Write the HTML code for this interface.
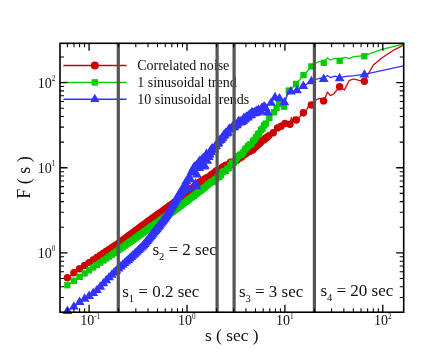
<!DOCTYPE html>
<html><head><meta charset="utf-8"><title>DFA</title>
<style>html,body{margin:0;padding:0;background:#fff;overflow:hidden}svg{display:block;will-change:transform}text{font-family:"Liberation Serif",serif;fill:#111}</style>
</head><body>
<svg width="447" height="353" viewBox="0 0 447 353">
<rect width="447" height="353" fill="#fff"/>
<defs><clipPath id="c"><rect x="54.0" y="42.3" width="350.7" height="274.9"/></clipPath></defs>

<path d="M63.4 65.5H126.6" stroke="#cc0000" stroke-width="1.4"/>
<path d="M63.4 82.4H126.6" stroke="#00cc00" stroke-width="1.4"/>
<path d="M63.4 99.2H126.6" stroke="#3333ff" stroke-width="1.4"/>
<g fill="#cc0000"><circle cx="94.8" cy="65.5" r="4.0"/></g>
<g fill="#00cc00"><rect x="91.6" y="79.2" width="6.4" height="6.4"/></g>
<g fill="#3333ff"><path d="M90.1 101.9L99.5 101.9L94.8 93.7Z"/></g>
<text x="137.2" y="69.8" font-size="14">Correlated noise</text>
<text x="137.2" y="86.7" font-size="14">1 sinusoidal trend</text>
<text x="137.2" y="103.7" font-size="14">10 sinusoidal trends</text>

<g clip-path="url(#c)">
<polyline points="67.4,277.7 73.9,272.8 79.6,268.8 84.6,265.5 89.1,262.6 93.2,259.9 96.9,257.5 100.3,255.3 103.4,253.2 106.3,251.3 109.1,249.5 111.7,247.8 114.1,246.2 116.4,244.7 118.6,243.3 120.6,241.8 122.6,240.3 124.5,238.9 126.3,237.6 128.1,236.3 129.7,235.0 131.3,233.9 132.9,232.7 134.5,231.5 136.1,230.3 137.7,229.1 139.3,227.9 140.9,226.7 142.5,225.5 144.1,224.4 145.7,223.2 147.3,222.0 148.9,220.8 150.5,219.6 152.1,218.5 153.7,217.3 155.3,216.2 156.9,215.0 158.5,213.9 160.1,212.7 161.7,211.6 163.3,210.4 164.9,209.3 166.5,208.1 168.1,206.9 169.7,205.8 171.3,204.6 172.9,203.5 174.5,202.3 176.1,201.1 177.7,199.8 179.3,198.5 180.9,197.3 182.5,196.0 184.1,194.7 185.7,193.4 187.3,192.1 188.9,190.9 190.5,189.6 192.1,188.3 193.7,187.0 195.3,185.7 196.9,184.5 198.5,183.2 200.1,181.9 201.7,180.9 203.3,179.9 204.9,178.9 206.5,177.9 208.1,177.1 209.7,176.6 211.3,174.8 212.9,173.7 214.5,172.7 216.1,170.9 217.7,170.4 219.3,169.7 220.9,169.1 222.5,167.1 224.1,166.5 225.7,165.3 227.3,165.5 228.9,164.4 230.5,162.3 232.1,162.9 233.7,161.9 235.3,160.8 236.9,160.2 238.5,158.8 240.1,157.4 241.7,157.1 243.3,155.3 244.9,154.3 246.5,153.3 248.1,151.8 249.7,151.4 251.3,150.2 252.9,149.7 254.5,147.7 256.1,146.5 257.7,144.9 259.3,143.7 260.9,142.0 262.5,140.1 264.1,139.7 265.7,138.2 267.3,136.9 268.9,135.6 270.0,134.6 273.3,132.7 275.5,131.0 277.5,127.9 279.0,128.5 281.0,126.2 283.0,125.5 285.0,123.5 287.5,125.0 290.0,124.2 291.4,117.5 292.5,121.0 294.0,116.8 296.3,120.0 300.0,116.5 303.4,112.8 306.0,111.5 308.0,107.0 311.3,105.0 314.0,101.5 317.0,99.5 320.0,98.3 323.6,100.9 325.5,97.0 327.5,92.1 330.3,95.6 333.6,94.0 339.6,86.8 344.4,89.9 349.3,80.3 354.0,79.0 358.9,80.3 364.4,81.0 368.5,73.5 373.3,65.1 381.8,57.9 392.6,50.7 403.4,45.1" fill="none" stroke="#cc0000" stroke-width="1.25" stroke-linejoin="round"/>
<g fill="#cc0000">
<circle cx="67.4" cy="277.7" r="3.7"/>
<circle cx="73.9" cy="272.8" r="3.7"/>
<circle cx="79.6" cy="268.8" r="3.7"/>
<circle cx="84.6" cy="265.5" r="3.7"/>
<circle cx="89.1" cy="262.6" r="3.7"/>
<circle cx="93.2" cy="259.9" r="3.7"/>
<circle cx="96.9" cy="257.5" r="3.7"/>
<circle cx="100.3" cy="255.3" r="3.7"/>
<circle cx="103.4" cy="253.2" r="3.7"/>
<circle cx="106.3" cy="251.3" r="3.7"/>
<circle cx="109.1" cy="249.5" r="3.7"/>
<circle cx="111.7" cy="247.8" r="3.7"/>
<circle cx="114.1" cy="246.2" r="3.7"/>
<circle cx="116.4" cy="244.7" r="3.7"/>
<circle cx="118.6" cy="243.3" r="3.7"/>
<circle cx="120.6" cy="241.8" r="3.7"/>
<circle cx="122.6" cy="240.3" r="3.7"/>
<circle cx="124.5" cy="238.9" r="3.7"/>
<circle cx="126.3" cy="237.6" r="3.7"/>
<circle cx="128.1" cy="236.3" r="3.7"/>
<circle cx="129.7" cy="235.0" r="3.7"/>
<circle cx="131.3" cy="233.9" r="3.7"/>
<circle cx="132.9" cy="232.7" r="3.7"/>
<circle cx="134.5" cy="231.5" r="3.7"/>
<circle cx="136.1" cy="230.3" r="3.7"/>
<circle cx="137.7" cy="229.1" r="3.7"/>
<circle cx="139.3" cy="227.9" r="3.7"/>
<circle cx="140.9" cy="226.7" r="3.7"/>
<circle cx="142.5" cy="225.5" r="3.7"/>
<circle cx="144.1" cy="224.4" r="3.7"/>
<circle cx="145.7" cy="223.2" r="3.7"/>
<circle cx="147.3" cy="222.0" r="3.7"/>
<circle cx="148.9" cy="220.8" r="3.7"/>
<circle cx="150.5" cy="219.6" r="3.7"/>
<circle cx="152.1" cy="218.5" r="3.7"/>
<circle cx="153.7" cy="217.3" r="3.7"/>
<circle cx="155.3" cy="216.2" r="3.7"/>
<circle cx="156.9" cy="215.0" r="3.7"/>
<circle cx="158.5" cy="213.9" r="3.7"/>
<circle cx="160.1" cy="212.7" r="3.7"/>
<circle cx="161.7" cy="211.6" r="3.7"/>
<circle cx="163.3" cy="210.4" r="3.7"/>
<circle cx="164.9" cy="209.3" r="3.7"/>
<circle cx="166.5" cy="208.1" r="3.7"/>
<circle cx="168.1" cy="206.9" r="3.7"/>
<circle cx="169.7" cy="205.8" r="3.7"/>
<circle cx="171.3" cy="204.6" r="3.7"/>
<circle cx="172.9" cy="203.5" r="3.7"/>
<circle cx="174.5" cy="202.3" r="3.7"/>
<circle cx="176.1" cy="201.1" r="3.7"/>
<circle cx="177.7" cy="199.8" r="3.7"/>
<circle cx="179.3" cy="198.5" r="3.7"/>
<circle cx="180.9" cy="197.3" r="3.7"/>
<circle cx="182.5" cy="196.0" r="3.7"/>
<circle cx="184.1" cy="194.7" r="3.7"/>
<circle cx="185.7" cy="193.4" r="3.7"/>
<circle cx="187.3" cy="192.1" r="3.7"/>
<circle cx="188.9" cy="190.9" r="3.7"/>
<circle cx="190.5" cy="189.6" r="3.7"/>
<circle cx="192.1" cy="188.3" r="3.7"/>
<circle cx="193.7" cy="187.0" r="3.7"/>
<circle cx="195.3" cy="185.7" r="3.7"/>
<circle cx="196.9" cy="184.5" r="3.7"/>
<circle cx="198.5" cy="183.2" r="3.7"/>
<circle cx="200.1" cy="181.9" r="3.7"/>
<circle cx="201.7" cy="180.9" r="3.7"/>
<circle cx="203.3" cy="179.9" r="3.7"/>
<circle cx="204.9" cy="178.9" r="3.7"/>
<circle cx="206.5" cy="177.9" r="3.7"/>
<circle cx="208.1" cy="177.1" r="3.7"/>
<circle cx="209.7" cy="176.6" r="3.7"/>
<circle cx="211.3" cy="174.8" r="3.7"/>
<circle cx="212.9" cy="173.7" r="3.7"/>
<circle cx="214.5" cy="172.7" r="3.7"/>
<circle cx="216.1" cy="170.9" r="3.7"/>
<circle cx="217.7" cy="170.4" r="3.7"/>
<circle cx="219.3" cy="169.7" r="3.7"/>
<circle cx="220.9" cy="169.1" r="3.7"/>
<circle cx="222.5" cy="167.1" r="3.7"/>
<circle cx="224.1" cy="166.5" r="3.7"/>
<circle cx="225.7" cy="165.3" r="3.7"/>
<circle cx="227.3" cy="165.5" r="3.7"/>
<circle cx="228.9" cy="164.4" r="3.7"/>
<circle cx="230.5" cy="162.3" r="3.7"/>
<circle cx="232.1" cy="162.9" r="3.7"/>
<circle cx="233.7" cy="161.9" r="3.7"/>
<circle cx="235.3" cy="160.8" r="3.7"/>
<circle cx="236.9" cy="160.2" r="3.7"/>
<circle cx="238.5" cy="158.8" r="3.7"/>
<circle cx="240.1" cy="157.4" r="3.7"/>
<circle cx="241.7" cy="157.1" r="3.7"/>
<circle cx="243.3" cy="155.3" r="3.7"/>
<circle cx="244.9" cy="154.3" r="3.7"/>
<circle cx="246.5" cy="153.3" r="3.7"/>
<circle cx="248.1" cy="151.8" r="3.7"/>
<circle cx="249.7" cy="151.4" r="3.7"/>
<circle cx="251.3" cy="150.2" r="3.7"/>
<circle cx="252.9" cy="149.7" r="3.7"/>
<circle cx="254.5" cy="147.7" r="3.7"/>
<circle cx="256.1" cy="146.5" r="3.7"/>
<circle cx="257.7" cy="144.9" r="3.7"/>
<circle cx="259.3" cy="143.7" r="3.7"/>
<circle cx="260.9" cy="142.0" r="3.7"/>
<circle cx="262.5" cy="140.1" r="3.7"/>
<circle cx="264.1" cy="139.7" r="3.7"/>
<circle cx="265.7" cy="138.2" r="3.7"/>
<circle cx="267.3" cy="136.9" r="3.7"/>
<circle cx="268.9" cy="135.6" r="3.7"/>
<circle cx="273.3" cy="132.7" r="3.7"/>
<circle cx="277.5" cy="127.9" r="3.7"/>
<circle cx="281.0" cy="126.2" r="3.7"/>
<circle cx="285.0" cy="123.5" r="3.7"/>
<circle cx="290.0" cy="124.2" r="3.7"/>
<circle cx="296.3" cy="120.0" r="3.7"/>
<circle cx="303.4" cy="112.8" r="3.7"/>
<circle cx="311.3" cy="105.0" r="3.7"/>
<circle cx="323.6" cy="100.9" r="3.7"/>
<circle cx="339.6" cy="86.8" r="3.7"/>
<circle cx="364.4" cy="81.2" r="3.7"/>
</g>
<polyline points="67.4,285.2 73.9,280.8 79.6,276.9 84.6,273.4 89.1,270.3 93.2,267.5 96.9,265.0 100.3,262.6 103.4,260.5 106.3,258.4 109.1,256.6 111.7,254.8 114.1,253.1 116.4,251.5 118.6,250.0 120.6,248.5 122.6,247.1 124.5,245.8 126.3,244.5 128.1,243.3 129.7,242.1 131.3,240.9 132.9,239.8 134.5,238.6 136.1,237.5 137.7,236.4 139.3,235.2 140.9,234.1 142.5,232.9 144.1,231.8 145.7,230.6 147.3,229.5 148.9,228.4 150.5,227.2 152.1,226.1 153.7,225.0 155.3,223.8 156.9,222.7 158.5,221.6 160.1,220.5 161.7,219.3 163.3,218.2 164.9,217.1 166.5,216.0 168.1,214.8 169.7,213.7 171.3,212.6 172.9,211.5 174.5,210.3 176.1,209.1 177.7,207.9 179.3,206.7 180.9,205.5 182.5,204.3 184.1,203.1 185.7,201.9 187.3,200.7 188.9,199.5 190.5,198.2 192.1,197.0 193.7,195.8 195.3,194.6 196.9,193.4 198.5,192.2 200.1,191.0 201.7,189.8 203.3,188.5 204.9,187.3 206.5,185.8 208.1,184.4 209.7,183.3 211.3,181.6 212.9,181.7 214.5,179.7 216.1,179.4 217.7,177.1 219.3,176.8 220.9,175.2 222.5,172.0 224.1,171.0 225.7,171.0 227.3,168.6 228.9,168.0 230.5,165.3 232.1,163.0 233.7,162.5 235.3,161.0 236.9,158.1 238.5,155.9 240.1,154.8 241.7,154.4 243.3,152.4 244.9,149.5 246.5,148.1 248.1,146.2 249.7,144.4 251.3,144.3 252.9,141.2 254.5,139.8 256.1,137.3 257.7,134.5 259.3,133.3 260.9,129.9 262.5,128.6 264.1,125.3 265.7,123.6 265.9,123.5 269.3,118.0 273.9,112.3 276.5,108.0 279.0,103.8 281.5,106.5 284.0,106.7 286.0,99.0 288.8,90.6 292.0,88.5 296.0,84.0 299.5,80.0 303.5,75.1 307.0,71.5 311.3,66.4 315.0,63.5 319.0,61.5 323.7,62.2 327.5,57.8 330.3,60.0 334.8,58.4 339.6,59.6 344.4,57.4 349.3,58.4 354.0,56.7 364.4,55.7 381.8,49.4 403.4,44.1" fill="none" stroke="#00cc00" stroke-width="1.25" stroke-linejoin="round"/>
<g fill="#00cc00">
<rect x="64.2" y="282.1" width="6.3" height="6.3"/>
<rect x="70.8" y="277.6" width="6.3" height="6.3"/>
<rect x="76.5" y="273.7" width="6.3" height="6.3"/>
<rect x="81.5" y="270.3" width="6.3" height="6.3"/>
<rect x="85.9" y="267.2" width="6.3" height="6.3"/>
<rect x="90.0" y="264.4" width="6.3" height="6.3"/>
<rect x="93.7" y="261.8" width="6.3" height="6.3"/>
<rect x="97.1" y="259.5" width="6.3" height="6.3"/>
<rect x="100.3" y="257.3" width="6.3" height="6.3"/>
<rect x="103.2" y="255.3" width="6.3" height="6.3"/>
<rect x="105.9" y="253.4" width="6.3" height="6.3"/>
<rect x="108.5" y="251.6" width="6.3" height="6.3"/>
<rect x="110.9" y="250.0" width="6.3" height="6.3"/>
<rect x="113.2" y="248.4" width="6.3" height="6.3"/>
<rect x="115.4" y="246.9" width="6.3" height="6.3"/>
<rect x="117.5" y="245.4" width="6.3" height="6.3"/>
<rect x="119.5" y="244.0" width="6.3" height="6.3"/>
<rect x="121.4" y="242.6" width="6.3" height="6.3"/>
<rect x="123.2" y="241.3" width="6.3" height="6.3"/>
<rect x="124.9" y="240.1" width="6.3" height="6.3"/>
<rect x="126.6" y="238.9" width="6.3" height="6.3"/>
<rect x="128.2" y="237.8" width="6.3" height="6.3"/>
<rect x="129.8" y="236.6" width="6.3" height="6.3"/>
<rect x="131.4" y="235.5" width="6.3" height="6.3"/>
<rect x="133.0" y="234.3" width="6.3" height="6.3"/>
<rect x="134.6" y="233.2" width="6.3" height="6.3"/>
<rect x="136.2" y="232.1" width="6.3" height="6.3"/>
<rect x="137.8" y="230.9" width="6.3" height="6.3"/>
<rect x="139.4" y="229.8" width="6.3" height="6.3"/>
<rect x="141.0" y="228.6" width="6.3" height="6.3"/>
<rect x="142.6" y="227.5" width="6.3" height="6.3"/>
<rect x="144.2" y="226.4" width="6.3" height="6.3"/>
<rect x="145.8" y="225.2" width="6.3" height="6.3"/>
<rect x="147.4" y="224.1" width="6.3" height="6.3"/>
<rect x="149.0" y="223.0" width="6.3" height="6.3"/>
<rect x="150.6" y="221.8" width="6.3" height="6.3"/>
<rect x="152.2" y="220.7" width="6.3" height="6.3"/>
<rect x="153.8" y="219.6" width="6.3" height="6.3"/>
<rect x="155.4" y="218.4" width="6.3" height="6.3"/>
<rect x="157.0" y="217.3" width="6.3" height="6.3"/>
<rect x="158.6" y="216.2" width="6.3" height="6.3"/>
<rect x="160.2" y="215.1" width="6.3" height="6.3"/>
<rect x="161.8" y="213.9" width="6.3" height="6.3"/>
<rect x="163.4" y="212.8" width="6.3" height="6.3"/>
<rect x="165.0" y="211.7" width="6.3" height="6.3"/>
<rect x="166.6" y="210.6" width="6.3" height="6.3"/>
<rect x="168.2" y="209.4" width="6.3" height="6.3"/>
<rect x="169.8" y="208.3" width="6.3" height="6.3"/>
<rect x="171.4" y="207.2" width="6.3" height="6.3"/>
<rect x="173.0" y="206.0" width="6.3" height="6.3"/>
<rect x="174.6" y="204.8" width="6.3" height="6.3"/>
<rect x="176.2" y="203.6" width="6.3" height="6.3"/>
<rect x="177.8" y="202.4" width="6.3" height="6.3"/>
<rect x="179.4" y="201.1" width="6.3" height="6.3"/>
<rect x="181.0" y="199.9" width="6.3" height="6.3"/>
<rect x="182.6" y="198.7" width="6.3" height="6.3"/>
<rect x="184.2" y="197.5" width="6.3" height="6.3"/>
<rect x="185.8" y="196.3" width="6.3" height="6.3"/>
<rect x="187.4" y="195.1" width="6.3" height="6.3"/>
<rect x="189.0" y="193.9" width="6.3" height="6.3"/>
<rect x="190.6" y="192.7" width="6.3" height="6.3"/>
<rect x="192.2" y="191.5" width="6.3" height="6.3"/>
<rect x="193.8" y="190.2" width="6.3" height="6.3"/>
<rect x="195.4" y="189.0" width="6.3" height="6.3"/>
<rect x="197.0" y="187.8" width="6.3" height="6.3"/>
<rect x="198.6" y="186.6" width="6.3" height="6.3"/>
<rect x="200.2" y="185.4" width="6.3" height="6.3"/>
<rect x="201.8" y="184.2" width="6.3" height="6.3"/>
<rect x="203.4" y="182.6" width="6.3" height="6.3"/>
<rect x="205.0" y="181.2" width="6.3" height="6.3"/>
<rect x="206.6" y="180.1" width="6.3" height="6.3"/>
<rect x="208.2" y="178.4" width="6.3" height="6.3"/>
<rect x="209.8" y="178.6" width="6.3" height="6.3"/>
<rect x="211.4" y="176.6" width="6.3" height="6.3"/>
<rect x="213.0" y="176.2" width="6.3" height="6.3"/>
<rect x="214.6" y="174.0" width="6.3" height="6.3"/>
<rect x="216.2" y="173.7" width="6.3" height="6.3"/>
<rect x="217.8" y="172.0" width="6.3" height="6.3"/>
<rect x="219.4" y="168.9" width="6.3" height="6.3"/>
<rect x="221.0" y="167.9" width="6.3" height="6.3"/>
<rect x="222.6" y="167.8" width="6.3" height="6.3"/>
<rect x="224.2" y="165.5" width="6.3" height="6.3"/>
<rect x="225.8" y="164.9" width="6.3" height="6.3"/>
<rect x="227.4" y="162.1" width="6.3" height="6.3"/>
<rect x="229.0" y="159.9" width="6.3" height="6.3"/>
<rect x="230.6" y="159.4" width="6.3" height="6.3"/>
<rect x="232.2" y="157.9" width="6.3" height="6.3"/>
<rect x="233.8" y="155.0" width="6.3" height="6.3"/>
<rect x="235.4" y="152.8" width="6.3" height="6.3"/>
<rect x="237.0" y="151.6" width="6.3" height="6.3"/>
<rect x="238.6" y="151.3" width="6.3" height="6.3"/>
<rect x="240.2" y="149.2" width="6.3" height="6.3"/>
<rect x="241.8" y="146.3" width="6.3" height="6.3"/>
<rect x="243.4" y="144.9" width="6.3" height="6.3"/>
<rect x="245.0" y="143.0" width="6.3" height="6.3"/>
<rect x="246.6" y="141.3" width="6.3" height="6.3"/>
<rect x="248.2" y="141.1" width="6.3" height="6.3"/>
<rect x="249.8" y="138.1" width="6.3" height="6.3"/>
<rect x="251.4" y="136.6" width="6.3" height="6.3"/>
<rect x="253.0" y="134.1" width="6.3" height="6.3"/>
<rect x="254.6" y="131.3" width="6.3" height="6.3"/>
<rect x="256.2" y="130.2" width="6.3" height="6.3"/>
<rect x="257.8" y="126.7" width="6.3" height="6.3"/>
<rect x="259.4" y="125.5" width="6.3" height="6.3"/>
<rect x="261.0" y="122.1" width="6.3" height="6.3"/>
<rect x="262.6" y="120.4" width="6.3" height="6.3"/>
<rect x="266.2" y="114.8" width="6.3" height="6.3"/>
<rect x="270.8" y="109.1" width="6.3" height="6.3"/>
<rect x="273.4" y="104.8" width="6.3" height="6.3"/>
<rect x="275.9" y="100.6" width="6.3" height="6.3"/>
<rect x="280.9" y="103.5" width="6.3" height="6.3"/>
<rect x="285.7" y="87.4" width="6.3" height="6.3"/>
<rect x="292.9" y="80.8" width="6.3" height="6.3"/>
<rect x="300.4" y="71.9" width="6.3" height="6.3"/>
<rect x="308.2" y="63.3" width="6.3" height="6.3"/>
<rect x="320.6" y="59.6" width="6.3" height="6.3"/>
<rect x="336.5" y="57.6" width="6.3" height="6.3"/>
<rect x="361.2" y="53.1" width="6.3" height="6.3"/>
</g>
<polyline points="67.4,311.2 73.9,306.8 79.6,302.2 84.6,298.9 89.1,296.2 93.2,293.3 96.9,290.3 100.3,286.9 103.4,283.5 106.3,280.4 109.1,277.5 111.7,275.0 114.1,272.7 116.4,270.6 118.6,268.6 120.6,266.8 122.6,265.0 124.5,263.3 126.3,261.7 128.1,260.1 129.7,258.6 131.3,257.1 132.9,255.7 134.4,254.4 135.8,253.0 137.2,251.6 138.6,250.3 139.9,249.0 141.1,247.8 142.4,246.6 143.6,245.4 144.7,244.1 145.9,242.7 147.0,241.3 148.0,239.9 149.1,238.6 150.1,237.4 151.1,236.1 152.1,234.9 153.0,233.6 154.0,232.5 154.9,231.3 155.8,230.2 156.7,229.1 157.5,228.0 158.4,226.9 159.2,225.9 160.0,224.8 160.8,223.8 161.6,222.8 162.4,221.8 163.2,220.8 164.0,219.8 164.8,218.7 165.6,217.5 166.4,216.1 167.2,214.8 168.0,213.4 168.8,212.0 169.6,210.7 170.4,209.3 171.2,208.0 172.0,206.6 172.8,205.3 173.6,203.9 174.4,202.5 175.2,201.2 176.0,199.8 176.8,198.5 177.6,197.1 178.4,195.7 179.2,194.4 180.0,193.0 180.8,192.9 181.6,191.3 182.4,190.0 183.2,187.2 184.0,190.5 184.8,188.4 185.6,186.9 186.4,181.2 187.2,186.9 188.0,188.1 188.8,178.5 189.6,178.4 190.4,179.7 191.2,172.6 192.0,171.7 192.8,169.9 193.6,168.1 194.4,166.9 195.2,168.0 196.0,166.1 196.8,174.6 197.6,164.3 198.4,162.6 199.2,168.2 200.0,160.9 200.8,164.5 201.6,160.0 202.4,165.1 203.2,158.2 204.0,166.7 204.8,166.0 205.6,156.6 206.4,154.2 207.2,160.9 208.0,155.4 208.8,157.2 209.6,154.8 210.4,150.8 211.2,152.4 212.0,148.7 212.8,148.8 213.6,149.8 214.4,149.7 215.2,146.6 216.0,146.3 216.8,143.8 217.6,143.9 218.4,143.1 219.2,140.9 220.0,140.2 220.8,140.1 221.6,138.8 222.4,138.1 223.2,136.4 224.0,134.8 224.8,135.5 225.6,133.0 226.4,133.6 227.2,132.7 228.0,132.7 228.8,129.5 229.6,128.9 230.4,129.6 231.2,129.3 232.0,127.9 232.8,126.4 233.6,126.2 234.4,127.4 235.2,125.0 236.0,125.7 236.8,125.2 237.6,123.8 238.4,121.6 239.2,121.7 240.0,122.8 240.8,121.5 241.6,122.2 242.4,120.3 243.2,121.3 244.0,118.2 244.8,119.7 245.6,118.8 246.4,116.8 247.2,116.8 248.0,117.7 248.8,115.7 249.6,115.3 250.4,114.0 251.2,115.5 252.0,112.4 252.8,113.5 253.6,113.5 254.4,112.7 255.2,113.3 256.0,111.5 256.8,111.2 257.6,112.8 258.4,109.8 259.2,111.8 260.0,111.2 260.8,111.3 261.6,108.4 262.4,108.3 263.2,108.2 264.0,106.8 264.8,107.0 265.6,108.5 266.0,106.5 271.0,103.0 275.0,97.4 279.5,98.5 284.4,102.5 287.0,95.0 290.8,91.7 297.0,90.4 303.3,86.2 311.4,81.4 316.0,79.5 320.0,78.2 323.7,78.6 327.5,75.5 330.3,77.6 335.0,76.2 339.6,77.6 346.0,76.3 354.0,75.6 364.4,74.3 403.4,65.8" fill="none" stroke="#3333ff" stroke-width="1.25" stroke-linejoin="round"/>
<g fill="#3333ff">
<path d="M62.5 314.0L72.3 314.0L67.4 305.6Z"/>
<path d="M69.0 309.6L78.8 309.6L73.9 301.2Z"/>
<path d="M74.7 305.0L84.5 305.0L79.6 296.6Z"/>
<path d="M79.7 301.7L89.5 301.7L84.6 293.3Z"/>
<path d="M84.2 299.0L94.0 299.0L89.1 290.6Z"/>
<path d="M88.3 296.1L98.1 296.1L93.2 287.7Z"/>
<path d="M92.0 293.1L101.8 293.1L96.9 284.7Z"/>
<path d="M95.4 289.7L105.2 289.7L100.3 281.3Z"/>
<path d="M98.5 286.3L108.3 286.3L103.4 277.9Z"/>
<path d="M101.4 283.2L111.2 283.2L106.3 274.8Z"/>
<path d="M104.2 280.3L114.0 280.3L109.1 271.9Z"/>
<path d="M106.8 277.8L116.6 277.8L111.7 269.4Z"/>
<path d="M109.2 275.5L119.0 275.5L114.1 267.1Z"/>
<path d="M111.5 273.4L121.3 273.4L116.4 265.0Z"/>
<path d="M113.7 271.4L123.5 271.4L118.6 263.0Z"/>
<path d="M115.7 269.6L125.5 269.6L120.6 261.2Z"/>
<path d="M117.7 267.8L127.5 267.8L122.6 259.4Z"/>
<path d="M119.6 266.1L129.4 266.1L124.5 257.7Z"/>
<path d="M121.4 264.5L131.2 264.5L126.3 256.1Z"/>
<path d="M123.2 262.9L133.0 262.9L128.1 254.5Z"/>
<path d="M124.8 261.4L134.6 261.4L129.7 253.0Z"/>
<path d="M126.4 259.9L136.2 259.9L131.3 251.5Z"/>
<path d="M128.0 258.5L137.8 258.5L132.9 250.1Z"/>
<path d="M129.5 257.2L139.3 257.2L134.4 248.8Z"/>
<path d="M130.9 255.8L140.7 255.8L135.8 247.4Z"/>
<path d="M132.3 254.4L142.1 254.4L137.2 246.0Z"/>
<path d="M133.7 253.1L143.5 253.1L138.6 244.7Z"/>
<path d="M135.0 251.8L144.8 251.8L139.9 243.4Z"/>
<path d="M136.2 250.6L146.0 250.6L141.1 242.2Z"/>
<path d="M137.5 249.4L147.3 249.4L142.4 241.0Z"/>
<path d="M138.7 248.2L148.5 248.2L143.6 239.8Z"/>
<path d="M139.8 246.9L149.6 246.9L144.7 238.5Z"/>
<path d="M141.0 245.5L150.8 245.5L145.9 237.1Z"/>
<path d="M142.1 244.1L151.9 244.1L147.0 235.7Z"/>
<path d="M143.1 242.7L152.9 242.7L148.0 234.3Z"/>
<path d="M144.2 241.4L154.0 241.4L149.1 233.0Z"/>
<path d="M145.2 240.2L155.0 240.2L150.1 231.8Z"/>
<path d="M146.2 238.9L156.0 238.9L151.1 230.5Z"/>
<path d="M147.2 237.7L157.0 237.7L152.1 229.3Z"/>
<path d="M148.1 236.4L157.9 236.4L153.0 228.0Z"/>
<path d="M149.1 235.3L158.9 235.3L154.0 226.9Z"/>
<path d="M150.0 234.1L159.8 234.1L154.9 225.7Z"/>
<path d="M150.9 233.0L160.7 233.0L155.8 224.6Z"/>
<path d="M151.8 231.9L161.6 231.9L156.7 223.5Z"/>
<path d="M152.6 230.8L162.4 230.8L157.5 222.4Z"/>
<path d="M153.5 229.7L163.3 229.7L158.4 221.3Z"/>
<path d="M154.3 228.7L164.1 228.7L159.2 220.3Z"/>
<path d="M155.1 227.6L164.9 227.6L160.0 219.2Z"/>
<path d="M155.9 226.6L165.7 226.6L160.8 218.2Z"/>
<path d="M156.7 225.6L166.5 225.6L161.6 217.2Z"/>
<path d="M157.5 224.6L167.3 224.6L162.4 216.2Z"/>
<path d="M158.3 223.6L168.1 223.6L163.2 215.2Z"/>
<path d="M159.1 222.6L168.9 222.6L164.0 214.2Z"/>
<path d="M159.9 221.5L169.7 221.5L164.8 213.1Z"/>
<path d="M160.7 220.3L170.5 220.3L165.6 211.9Z"/>
<path d="M161.5 218.9L171.3 218.9L166.4 210.5Z"/>
<path d="M162.3 217.6L172.1 217.6L167.2 209.2Z"/>
<path d="M163.1 216.2L172.9 216.2L168.0 207.8Z"/>
<path d="M163.9 214.8L173.7 214.8L168.8 206.4Z"/>
<path d="M164.7 213.5L174.5 213.5L169.6 205.1Z"/>
<path d="M165.5 212.1L175.3 212.1L170.4 203.7Z"/>
<path d="M166.3 210.8L176.1 210.8L171.2 202.4Z"/>
<path d="M167.1 209.4L176.9 209.4L172.0 201.0Z"/>
<path d="M167.9 208.1L177.7 208.1L172.8 199.7Z"/>
<path d="M168.7 206.7L178.5 206.7L173.6 198.3Z"/>
<path d="M169.5 205.3L179.3 205.3L174.4 196.9Z"/>
<path d="M170.3 204.0L180.1 204.0L175.2 195.6Z"/>
<path d="M171.1 202.6L180.9 202.6L176.0 194.2Z"/>
<path d="M171.9 201.3L181.7 201.3L176.8 192.9Z"/>
<path d="M172.7 199.9L182.5 199.9L177.6 191.5Z"/>
<path d="M173.5 198.5L183.3 198.5L178.4 190.1Z"/>
<path d="M174.3 197.2L184.1 197.2L179.2 188.8Z"/>
<path d="M175.1 195.8L184.9 195.8L180.0 187.4Z"/>
<path d="M175.9 195.7L185.7 195.7L180.8 187.3Z"/>
<path d="M176.7 194.1L186.5 194.1L181.6 185.7Z"/>
<path d="M177.5 192.8L187.3 192.8L182.4 184.4Z"/>
<path d="M178.3 190.0L188.1 190.0L183.2 181.6Z"/>
<path d="M179.1 193.3L188.9 193.3L184.0 184.9Z"/>
<path d="M179.9 191.2L189.7 191.2L184.8 182.8Z"/>
<path d="M180.7 189.7L190.5 189.7L185.6 181.3Z"/>
<path d="M181.5 184.0L191.3 184.0L186.4 175.6Z"/>
<path d="M182.3 189.7L192.1 189.7L187.2 181.3Z"/>
<path d="M183.1 190.9L192.9 190.9L188.0 182.5Z"/>
<path d="M183.9 181.3L193.7 181.3L188.8 172.9Z"/>
<path d="M184.7 181.2L194.5 181.2L189.6 172.8Z"/>
<path d="M185.5 182.5L195.3 182.5L190.4 174.1Z"/>
<path d="M186.3 175.4L196.1 175.4L191.2 167.0Z"/>
<path d="M187.1 174.5L196.9 174.5L192.0 166.1Z"/>
<path d="M187.9 172.7L197.7 172.7L192.8 164.3Z"/>
<path d="M188.7 170.9L198.5 170.9L193.6 162.5Z"/>
<path d="M189.5 169.7L199.3 169.7L194.4 161.3Z"/>
<path d="M190.3 170.8L200.1 170.8L195.2 162.4Z"/>
<path d="M191.1 168.9L200.9 168.9L196.0 160.5Z"/>
<path d="M191.9 177.4L201.7 177.4L196.8 169.0Z"/>
<path d="M192.7 167.1L202.5 167.1L197.6 158.7Z"/>
<path d="M193.5 165.4L203.3 165.4L198.4 157.0Z"/>
<path d="M194.3 171.0L204.1 171.0L199.2 162.6Z"/>
<path d="M195.1 163.7L204.9 163.7L200.0 155.3Z"/>
<path d="M195.9 167.3L205.7 167.3L200.8 158.9Z"/>
<path d="M196.7 162.8L206.5 162.8L201.6 154.4Z"/>
<path d="M197.5 167.9L207.3 167.9L202.4 159.5Z"/>
<path d="M198.3 161.0L208.1 161.0L203.2 152.6Z"/>
<path d="M199.1 169.5L208.9 169.5L204.0 161.1Z"/>
<path d="M199.9 168.8L209.7 168.8L204.8 160.4Z"/>
<path d="M200.7 159.4L210.5 159.4L205.6 151.0Z"/>
<path d="M201.5 157.0L211.3 157.0L206.4 148.6Z"/>
<path d="M202.3 163.7L212.1 163.7L207.2 155.3Z"/>
<path d="M203.1 158.2L212.9 158.2L208.0 149.8Z"/>
<path d="M203.9 160.0L213.7 160.0L208.8 151.6Z"/>
<path d="M204.7 157.6L214.5 157.6L209.6 149.2Z"/>
<path d="M205.5 153.6L215.3 153.6L210.4 145.2Z"/>
<path d="M206.3 155.2L216.1 155.2L211.2 146.8Z"/>
<path d="M207.1 151.5L216.9 151.5L212.0 143.1Z"/>
<path d="M207.9 151.6L217.7 151.6L212.8 143.2Z"/>
<path d="M208.7 152.6L218.5 152.6L213.6 144.2Z"/>
<path d="M209.5 152.5L219.3 152.5L214.4 144.1Z"/>
<path d="M210.3 149.4L220.1 149.4L215.2 141.0Z"/>
<path d="M211.1 149.1L220.9 149.1L216.0 140.7Z"/>
<path d="M211.9 146.6L221.7 146.6L216.8 138.2Z"/>
<path d="M212.7 146.7L222.5 146.7L217.6 138.3Z"/>
<path d="M213.5 145.9L223.3 145.9L218.4 137.5Z"/>
<path d="M214.3 143.7L224.1 143.7L219.2 135.3Z"/>
<path d="M215.1 143.0L224.9 143.0L220.0 134.6Z"/>
<path d="M215.9 142.9L225.7 142.9L220.8 134.5Z"/>
<path d="M216.7 141.6L226.5 141.6L221.6 133.2Z"/>
<path d="M217.5 140.9L227.3 140.9L222.4 132.5Z"/>
<path d="M218.3 139.2L228.1 139.2L223.2 130.8Z"/>
<path d="M219.1 137.6L228.9 137.6L224.0 129.2Z"/>
<path d="M219.9 138.3L229.7 138.3L224.8 129.9Z"/>
<path d="M220.7 135.8L230.5 135.8L225.6 127.4Z"/>
<path d="M221.5 136.4L231.3 136.4L226.4 128.0Z"/>
<path d="M222.3 135.5L232.1 135.5L227.2 127.1Z"/>
<path d="M223.1 135.5L232.9 135.5L228.0 127.1Z"/>
<path d="M223.9 132.3L233.7 132.3L228.8 123.9Z"/>
<path d="M224.7 131.7L234.5 131.7L229.6 123.3Z"/>
<path d="M225.5 132.4L235.3 132.4L230.4 124.0Z"/>
<path d="M226.3 132.1L236.1 132.1L231.2 123.7Z"/>
<path d="M227.1 130.7L236.9 130.7L232.0 122.3Z"/>
<path d="M227.9 129.2L237.7 129.2L232.8 120.8Z"/>
<path d="M228.7 129.0L238.5 129.0L233.6 120.6Z"/>
<path d="M229.5 130.2L239.3 130.2L234.4 121.8Z"/>
<path d="M230.3 127.8L240.1 127.8L235.2 119.4Z"/>
<path d="M231.1 128.5L240.9 128.5L236.0 120.1Z"/>
<path d="M231.9 128.0L241.7 128.0L236.8 119.6Z"/>
<path d="M232.7 126.6L242.5 126.6L237.6 118.2Z"/>
<path d="M233.5 124.4L243.3 124.4L238.4 116.0Z"/>
<path d="M234.3 124.5L244.1 124.5L239.2 116.1Z"/>
<path d="M235.1 125.6L244.9 125.6L240.0 117.2Z"/>
<path d="M235.9 124.3L245.7 124.3L240.8 115.9Z"/>
<path d="M236.7 125.0L246.5 125.0L241.6 116.6Z"/>
<path d="M237.5 123.1L247.3 123.1L242.4 114.7Z"/>
<path d="M238.3 124.1L248.1 124.1L243.2 115.7Z"/>
<path d="M239.1 121.0L248.9 121.0L244.0 112.6Z"/>
<path d="M239.9 122.5L249.7 122.5L244.8 114.1Z"/>
<path d="M240.7 121.6L250.5 121.6L245.6 113.2Z"/>
<path d="M241.5 119.6L251.3 119.6L246.4 111.2Z"/>
<path d="M242.3 119.6L252.1 119.6L247.2 111.2Z"/>
<path d="M243.1 120.5L252.9 120.5L248.0 112.1Z"/>
<path d="M243.9 118.5L253.7 118.5L248.8 110.1Z"/>
<path d="M244.7 118.1L254.5 118.1L249.6 109.7Z"/>
<path d="M245.5 116.8L255.3 116.8L250.4 108.4Z"/>
<path d="M246.3 118.3L256.1 118.3L251.2 109.9Z"/>
<path d="M247.1 115.2L256.9 115.2L252.0 106.8Z"/>
<path d="M247.9 116.3L257.7 116.3L252.8 107.9Z"/>
<path d="M248.7 116.3L258.5 116.3L253.6 107.9Z"/>
<path d="M249.5 115.5L259.3 115.5L254.4 107.1Z"/>
<path d="M250.3 116.1L260.1 116.1L255.2 107.7Z"/>
<path d="M251.1 114.3L260.9 114.3L256.0 105.9Z"/>
<path d="M251.9 114.0L261.7 114.0L256.8 105.6Z"/>
<path d="M252.7 115.6L262.5 115.6L257.6 107.2Z"/>
<path d="M253.5 112.6L263.3 112.6L258.4 104.2Z"/>
<path d="M254.3 114.6L264.1 114.6L259.2 106.2Z"/>
<path d="M255.1 114.0L264.9 114.0L260.0 105.6Z"/>
<path d="M255.9 114.1L265.7 114.1L260.8 105.7Z"/>
<path d="M256.7 111.2L266.5 111.2L261.6 102.8Z"/>
<path d="M257.5 111.1L267.3 111.1L262.4 102.7Z"/>
<path d="M258.3 111.0L268.1 111.0L263.2 102.6Z"/>
<path d="M259.1 109.6L268.9 109.6L264.0 101.2Z"/>
<path d="M259.9 109.8L269.7 109.8L264.8 101.4Z"/>
<path d="M260.7 111.3L270.5 111.3L265.6 102.9Z"/>
<path d="M191.4 189.3L201.2 189.3L196.3 180.9Z"/>
<path d="M190.7 186.3L200.5 186.3L195.6 177.9Z"/>
<path d="M262.7 115.4L272.5 115.4L267.6 107.0Z"/>
<path d="M266.1 105.8L275.9 105.8L271.0 97.4Z"/>
<path d="M270.1 100.2L279.9 100.2L275.0 91.8Z"/>
<path d="M274.6 101.3L284.4 101.3L279.5 92.9Z"/>
<path d="M279.5 105.3L289.3 105.3L284.4 96.9Z"/>
<path d="M285.9 94.5L295.7 94.5L290.8 86.1Z"/>
<path d="M292.1 93.2L301.9 93.2L297.0 84.8Z"/>
<path d="M298.4 89.0L308.2 89.0L303.3 80.6Z"/>
<path d="M306.5 84.2L316.3 84.2L311.4 75.8Z"/>
<path d="M318.8 82.0L328.6 82.0L323.7 73.6Z"/>
<path d="M334.7 81.2L344.5 81.2L339.6 72.8Z"/>
<path d="M359.5 77.6L369.3 77.6L364.4 69.2Z"/>
</g>
</g>
<text x="122.2" y="297.3" font-size="17">s<tspan font-size="10.5" dy="5.1">1</tspan><tspan dy="-5.1"> = 0.2 sec</tspan></text>
<text x="152.4" y="255.2" font-size="17">s<tspan font-size="10.5" dy="5.1">2</tspan><tspan dy="-5.1"> = 2 sec</tspan></text>
<text x="238.9" y="296.9" font-size="17">s<tspan font-size="10.5" dy="5.1">3</tspan><tspan dy="-5.1"> = 3 sec</tspan></text>
<text x="320.4" y="295.6" font-size="17">s<tspan font-size="10.5" dy="5.1">4</tspan><tspan dy="-5.1"> = 20 sec</tspan></text>
<g stroke="#555555" stroke-width="3.2" fill="none">
<path d="M118.3 43.3V312.2"/>
<path d="M217.1 43.3V312.2"/>
<path d="M234.1 43.3V312.2"/>
<path d="M314.4 43.3V312.2"/>
</g>
<g stroke="#000" stroke-width="1.05" fill="none">
<path d="M67.38 312.2v-4M67.38 43.3v4"/>
<path d="M73.94 312.2v-4M73.94 43.3v4"/>
<path d="M79.61 312.2v-4M79.61 43.3v4"/>
<path d="M84.62 312.2v-4M84.62 43.3v4"/>
<path d="M89.10 312.2v-7.5M89.10 43.3v7.5" stroke-width="1.3"/>
<path d="M118.57 312.2v-4M118.57 43.3v4"/>
<path d="M135.81 312.2v-4M135.81 43.3v4"/>
<path d="M148.04 312.2v-4M148.04 43.3v4"/>
<path d="M157.53 312.2v-4M157.53 43.3v4"/>
<path d="M165.28 312.2v-4M165.28 43.3v4"/>
<path d="M171.84 312.2v-4M171.84 43.3v4"/>
<path d="M177.51 312.2v-4M177.51 43.3v4"/>
<path d="M182.52 312.2v-4M182.52 43.3v4"/>
<path d="M187.00 312.2v-7.5M187.00 43.3v7.5" stroke-width="1.3"/>
<path d="M216.47 312.2v-4M216.47 43.3v4"/>
<path d="M233.71 312.2v-4M233.71 43.3v4"/>
<path d="M245.94 312.2v-4M245.94 43.3v4"/>
<path d="M255.43 312.2v-4M255.43 43.3v4"/>
<path d="M263.18 312.2v-4M263.18 43.3v4"/>
<path d="M269.74 312.2v-4M269.74 43.3v4"/>
<path d="M275.41 312.2v-4M275.41 43.3v4"/>
<path d="M280.42 312.2v-4M280.42 43.3v4"/>
<path d="M284.90 312.2v-7.5M284.90 43.3v7.5" stroke-width="1.3"/>
<path d="M314.37 312.2v-4M314.37 43.3v4"/>
<path d="M331.61 312.2v-4M331.61 43.3v4"/>
<path d="M343.84 312.2v-4M343.84 43.3v4"/>
<path d="M353.33 312.2v-4M353.33 43.3v4"/>
<path d="M361.08 312.2v-4M361.08 43.3v4"/>
<path d="M367.64 312.2v-4M367.64 43.3v4"/>
<path d="M373.31 312.2v-4M373.31 43.3v4"/>
<path d="M378.32 312.2v-4M378.32 43.3v4"/>
<path d="M382.80 312.2v-7.5M382.80 43.3v7.5" stroke-width="1.3"/>
<path d="M60.0 297.42h4M403.7 297.42h-4"/>
<path d="M60.0 286.78h4M403.7 286.78h-4"/>
<path d="M60.0 278.53h4M403.7 278.53h-4"/>
<path d="M60.0 271.79h4M403.7 271.79h-4"/>
<path d="M60.0 266.09h4M403.7 266.09h-4"/>
<path d="M60.0 261.15h4M403.7 261.15h-4"/>
<path d="M60.0 256.80h4M403.7 256.80h-4"/>
<path d="M60.0 252.90h7.5M403.7 252.90h-7.5" stroke-width="1.3"/>
<path d="M60.0 227.27h4M403.7 227.27h-4"/>
<path d="M60.0 212.27h4M403.7 212.27h-4"/>
<path d="M60.0 201.63h4M403.7 201.63h-4"/>
<path d="M60.0 193.38h4M403.7 193.38h-4"/>
<path d="M60.0 186.64h4M403.7 186.64h-4"/>
<path d="M60.0 180.94h4M403.7 180.94h-4"/>
<path d="M60.0 176.00h4M403.7 176.00h-4"/>
<path d="M60.0 171.65h4M403.7 171.65h-4"/>
<path d="M60.0 167.75h7.5M403.7 167.75h-7.5" stroke-width="1.3"/>
<path d="M60.0 142.12h4M403.7 142.12h-4"/>
<path d="M60.0 127.12h4M403.7 127.12h-4"/>
<path d="M60.0 116.48h4M403.7 116.48h-4"/>
<path d="M60.0 108.23h4M403.7 108.23h-4"/>
<path d="M60.0 101.49h4M403.7 101.49h-4"/>
<path d="M60.0 95.79h4M403.7 95.79h-4"/>
<path d="M60.0 90.85h4M403.7 90.85h-4"/>
<path d="M60.0 86.50h4M403.7 86.50h-4"/>
<path d="M60.0 82.60h7.5M403.7 82.60h-7.5" stroke-width="1.3"/>
<path d="M60.0 56.97h4M403.7 56.97h-4"/>
</g>
<rect x="60.0" y="43.3" width="343.7" height="268.9" fill="none" stroke="#000" stroke-width="1.6"/>
<text x="80.2" y="325.4" font-size="14">10<tspan font-size="7.2" dy="-6.6">-1</tspan></text>
<text x="178.1" y="325.4" font-size="14">10<tspan font-size="7.2" dy="-6.6">0</tspan></text>
<text x="276.0" y="325.4" font-size="14">10<tspan font-size="7.2" dy="-6.6">1</tspan></text>
<text x="373.9" y="325.4" font-size="14">10<tspan font-size="7.2" dy="-6.6">2</tspan></text>
<text x="37.7" y="258.0" font-size="14">10<tspan font-size="7.2" dy="-6.6">0</tspan></text>
<text x="37.7" y="172.8" font-size="14">10<tspan font-size="7.2" dy="-6.6">1</tspan></text>
<text x="37.7" y="87.7" font-size="14">10<tspan font-size="7.2" dy="-6.6">2</tspan></text>
<text x="231.8" y="341.2" font-size="17.4" text-anchor="middle">s ( sec )</text>
<text transform="translate(30.2,177.5) rotate(-90)" font-size="18" text-anchor="middle">F ( s )</text>
</svg>
</body></html>
